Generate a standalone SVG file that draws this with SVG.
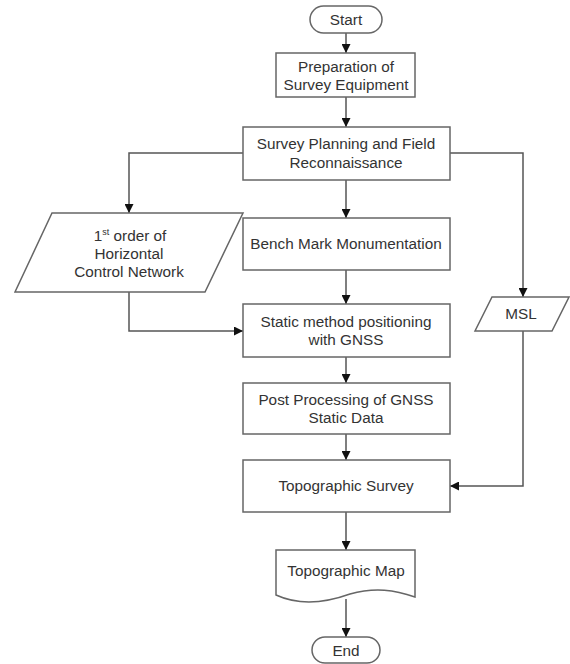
<svg xmlns="http://www.w3.org/2000/svg" width="570" height="664" viewBox="0 0 570 664">
<style>
.box{fill:#ffffff;stroke:#666;stroke-width:1.5;}
.t{font-family:"Liberation Sans",Arial,sans-serif;font-size:15.3px;fill:#333;text-anchor:middle;}
.c{fill:none;stroke:#555;stroke-width:1.5;}
</style>
<defs>
<marker id="ah" viewBox="0 0 10 10" refX="10" refY="5" markerWidth="9" markerHeight="9" markerUnits="userSpaceOnUse" orient="auto">
<path d="M0,0 L10,5 L0,10 Z" fill="#111"/>
</marker>
</defs>
<rect width="570" height="664" fill="#ffffff"/>
<g id="connectors">
<line class="c" x1="346" y1="33" x2="346" y2="53" marker-end="url(#ah)"/>
<line class="c" x1="346" y1="97" x2="346" y2="127" marker-end="url(#ah)"/>
<line class="c" x1="346" y1="180" x2="346" y2="218" marker-end="url(#ah)"/>
<line class="c" x1="346" y1="270" x2="346" y2="304" marker-end="url(#ah)"/>
<line class="c" x1="346" y1="357" x2="346" y2="383" marker-end="url(#ah)"/>
<line class="c" x1="346" y1="434" x2="346" y2="460" marker-end="url(#ah)"/>
<line class="c" x1="346" y1="512" x2="346" y2="550" marker-end="url(#ah)"/>
<line class="c" x1="346" y1="599" x2="346" y2="637" marker-end="url(#ah)"/>
<polyline class="c" points="243,153 129,153 129,213" marker-end="url(#ah)"/>
<polyline class="c" points="129,292 129,331 243,331" marker-end="url(#ah)"/>
<polyline class="c" points="450,153 523,153 523,297" marker-end="url(#ah)"/>
<polyline class="c" points="523,331 523,486 450,486" marker-end="url(#ah)"/>
</g>
<g id="start">
<rect class="box" x="310" y="6" width="72" height="27" rx="13.5"/>
<text class="t" x="346" y="25">Start</text>
</g>
<g id="prep">
<rect class="box" x="276" y="53" width="139" height="44"/>
<text class="t" x="346" y="72">Preparation of</text>
<text class="t" x="346" y="90">Survey Equipment</text>
</g>
<g id="planning">
<rect class="box" x="243" y="127" width="207" height="53"/>
<text class="t" x="346" y="149">Survey Planning and Field</text>
<text class="t" x="346" y="168">Reconnaissance</text>
</g>
<g id="hcn">
<polygon class="box" points="52,213 243,213 205,292 15,292"/>
<text class="t" x="130" y="241">1<tspan font-size="9" dy="-6">st</tspan><tspan dy="6"> order of</tspan></text>
<text class="t" x="129" y="259">Horizontal</text>
<text class="t" x="129" y="277">Control Network</text>
</g>
<g id="benchmark">
<rect class="box" x="243" y="218" width="207" height="52"/>
<text class="t" x="346" y="249">Bench Mark Monumentation</text>
</g>
<g id="static">
<rect class="box" x="243" y="304" width="207" height="53"/>
<text class="t" x="346" y="327">Static method positioning</text>
<text class="t" x="346" y="345">with GNSS</text>
</g>
<g id="msl">
<polygon class="box" points="492,297 569,297 552,331 475,331"/>
<text class="t" x="521" y="319">MSL</text>
</g>
<g id="post">
<rect class="box" x="243" y="383" width="207" height="51"/>
<text class="t" x="346" y="405">Post Processing of GNSS</text>
<text class="t" x="346" y="423">Static Data</text>
</g>
<g id="topo">
<rect class="box" x="243" y="460" width="207" height="52"/>
<text class="t" x="346" y="491">Topographic Survey</text>
</g>
<g id="map">
<path class="box" d="M276,550 H415 V597 C395,590 375,587 350,594 C325,603 300,606 276,595 Z"/>
<text class="t" x="346" y="576">Topographic Map</text>
</g>
<g id="end">
<rect class="box" x="312" y="637" width="68" height="26" rx="13"/>
<text class="t" x="346" y="656">End</text>
</g>
</svg>
